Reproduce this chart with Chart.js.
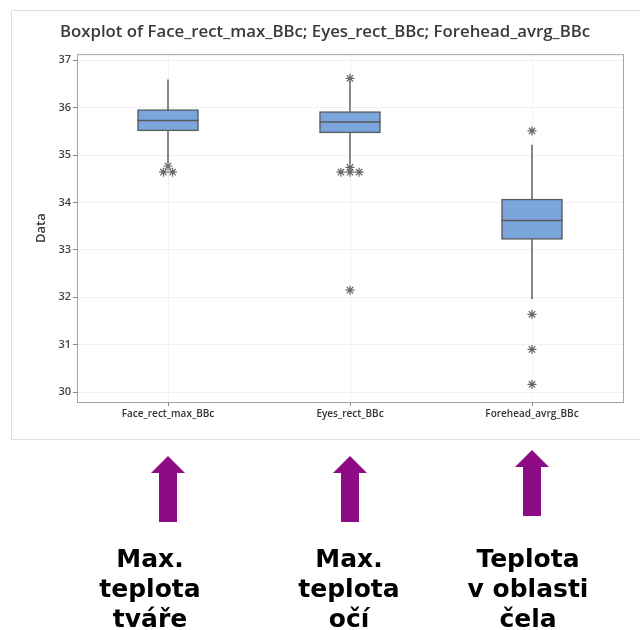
<!DOCTYPE html>
<html>
<head>
<meta charset="utf-8">
<script src="https://cdn.jsdelivr.net/npm/chart.js@4.4.1/dist/chart.umd.min.js"></script>
<style>
  body { margin: 0; background: #fff; width: 640px; height: 630px; position: relative; overflow: hidden; }
  #chart { position: absolute; left: 27px; top: 0; }
  .frame { position: absolute; left: 11px; top: 10px; width: 640px; height: 428px; border: 1px solid #dedede; pointer-events: none; }
  .arrow { position: absolute; }
  .label { position: absolute; width: 160px; text-align: center; font-family: "DejaVu Sans", Verdana, sans-serif;
           font-weight: bold; font-size: 25px; line-height: 30px; color: #000; }
</style>
</head>
<body>
<canvas id="chart" width="613" height="440"></canvas>
<div class="frame"></div>

<svg class="arrow" style="left:0;top:0" width="640" height="630">
  <polygon fill="#8e0b86" points="151,473 168,456 185,473 177,473 177,522 159,522 159,473"/>
  <polygon fill="#8e0b86" points="333,473 350,456 367,473 359,473 359,522 341,522 341,473"/>
  <polygon fill="#8e0b86" points="515,467 532,450 549,467 541,467 541,516 523,516 523,467"/>
</svg>

<div class="label" style="left:70px;top:544px">Max.<br>teplota<br>tváře</div>
<div class="label" style="left:269px;top:544px">Max.<br>teplota<br>očí</div>
<div class="label" style="left:448px;top:544px">Teplota<br>v oblasti<br>čela</div>

<script>
// Boxplot, hodnoty
const categories = ['Face_rect_max_BBc', 'Eyes_rect_BBc', 'Forehead_avrg_BBc'];
const whiskerLow = [34.85, 34.83, 31.97];
const q1 = [35.51, 35.47, 33.22];
const median = [35.73, 35.70, 33.62];
const q3 = [35.96, 35.92, 34.07];
const whiskerHigh = [36.59, 36.55, 35.21];
const outliers = [
    [34.77, 34.64, 34.64],
    [36.62, 34.74, 34.64, 34.64, 34.64, 32.15],
    [35.51, 31.64, 30.90, 30.16]
];
const yTicks = [30, 31, 32, 33, 34, 35, 36, 37];

// outliery se stejnou hodnotou vedle sebe (jako Minitab)
function outlierPoints() {
    const pts = [];
    outliers.forEach((vals, i) => {
        const groups = {};
        vals.forEach(v => { (groups[v] = groups[v] || []).push(v); });
        Object.values(groups).forEach(g => {
            g.forEach((v, k) => pts.push({ x: i + (k - (g.length - 1) / 2) * 0.05, y: v }));
        });
    });
    return pts;
}

const boxPlugin = {
    id: 'boxExtras',
    afterDatasetsDraw(chart) {
        const ctx = chart.ctx;
        const y = chart.scales.y;
        const meta = chart.getDatasetMeta(1);
        ctx.save();
        ctx.strokeStyle = '#5a5a5a';
        ctx.lineWidth = 1.5;
        meta.data.forEach((bar, i) => {
            const py = y.getPixelForValue(median[i]);
            ctx.beginPath();
            ctx.moveTo(bar.x - bar.width / 2, py);
            ctx.lineTo(bar.x + bar.width / 2, py);
            ctx.stroke();
        });
        // ramecek grafu
        const a = chart.chartArea;
        ctx.strokeStyle = '#a3a3a3';
        ctx.lineWidth = 1;
        ctx.strokeRect(a.left + 0.5, a.top + 0.5, a.right - a.left, a.bottom - a.top);
        ctx.restore();
    }
};

const ctx = document.getElementById('chart').getContext('2d');
new Chart(ctx, {
    type: 'bar',
    data: {
        labels: categories,
        datasets: [
            {
                type: 'scatter',
                xAxisID: 'xs',
                data: outlierPoints(),
                pointStyle: 'star',
                radius: 4.5,
                borderColor: '#666666',
                borderWidth: 1.2,
                order: 0
            },
            {
                data: categories.map((c, i) => [q1[i], q3[i]]),
                backgroundColor: '#7aa6dc',
                borderColor: '#5a5a5a',
                borderWidth: 1.5,
                borderSkipped: false,
                barThickness: 61,
                grouped: false,
                order: 1
            },
            {
                data: categories.map((c, i) => [whiskerLow[i], q1[i]]),
                backgroundColor: '#868686',
                barThickness: 1.3,
                grouped: false,
                order: 2
            },
            {
                data: categories.map((c, i) => [q3[i], whiskerHigh[i]]),
                backgroundColor: '#868686',
                barThickness: 1.3,
                grouped: false,
                order: 2
            }
        ]
    },
    options: {
        responsive: false,
        animation: false,
        layout: { padding: { left: 0, right: 17, top: 0, bottom: 0 } },
        plugins: {
            legend: { display: false },
            tooltip: { enabled: false },
            title: {
                display: true,
                text: 'Boxplot of Face_rect_max_BBc; Eyes_rect_BBc; Forehead_avrg_BBc',
                color: '#3a3a3a',
                font: { family: 'Open Sans', size: 16.8, weight: '600' },
                padding: { top: 22, bottom: 12 }
            }
        },
        scales: {
            x: {
                grid: { color: '#f1f1f1', offset: false, tickLength: 4, tickColor: '#8a8a8a' },
                border: { display: false },
                ticks: { color: '#333', padding: 2, font: { family: 'Open Sans', size: 10, weight: '600' } },
                afterFit: s => { s.height = 38; }
            },
            xs: {
                type: 'linear',
                display: false,
                offset: false,
                min: -0.5,
                max: 2.5
            },
            y: {
                min: 29.79,
                max: 37.13,
                afterBuildTicks: s => { s.ticks = yTicks.map(v => ({ value: v })); },
                grid: { color: '#f1f1f1', tickLength: 4, tickColor: '#8a8a8a' },
                border: { display: false },
                ticks: { color: '#444', padding: 2, font: { family: 'Open Sans', size: 11, weight: '600' } },
                title: {
                    display: true,
                    text: 'Data',
                    color: '#3a3a3a',
                    font: { family: 'Open Sans', size: 13, weight: '600' },
                    padding: { top: 6, bottom: 0 }
                },
                afterFit: s => { s.width = 50; }
            }
        }
    },
    plugins: [boxPlugin]
});
</script>
</body>
</html>
